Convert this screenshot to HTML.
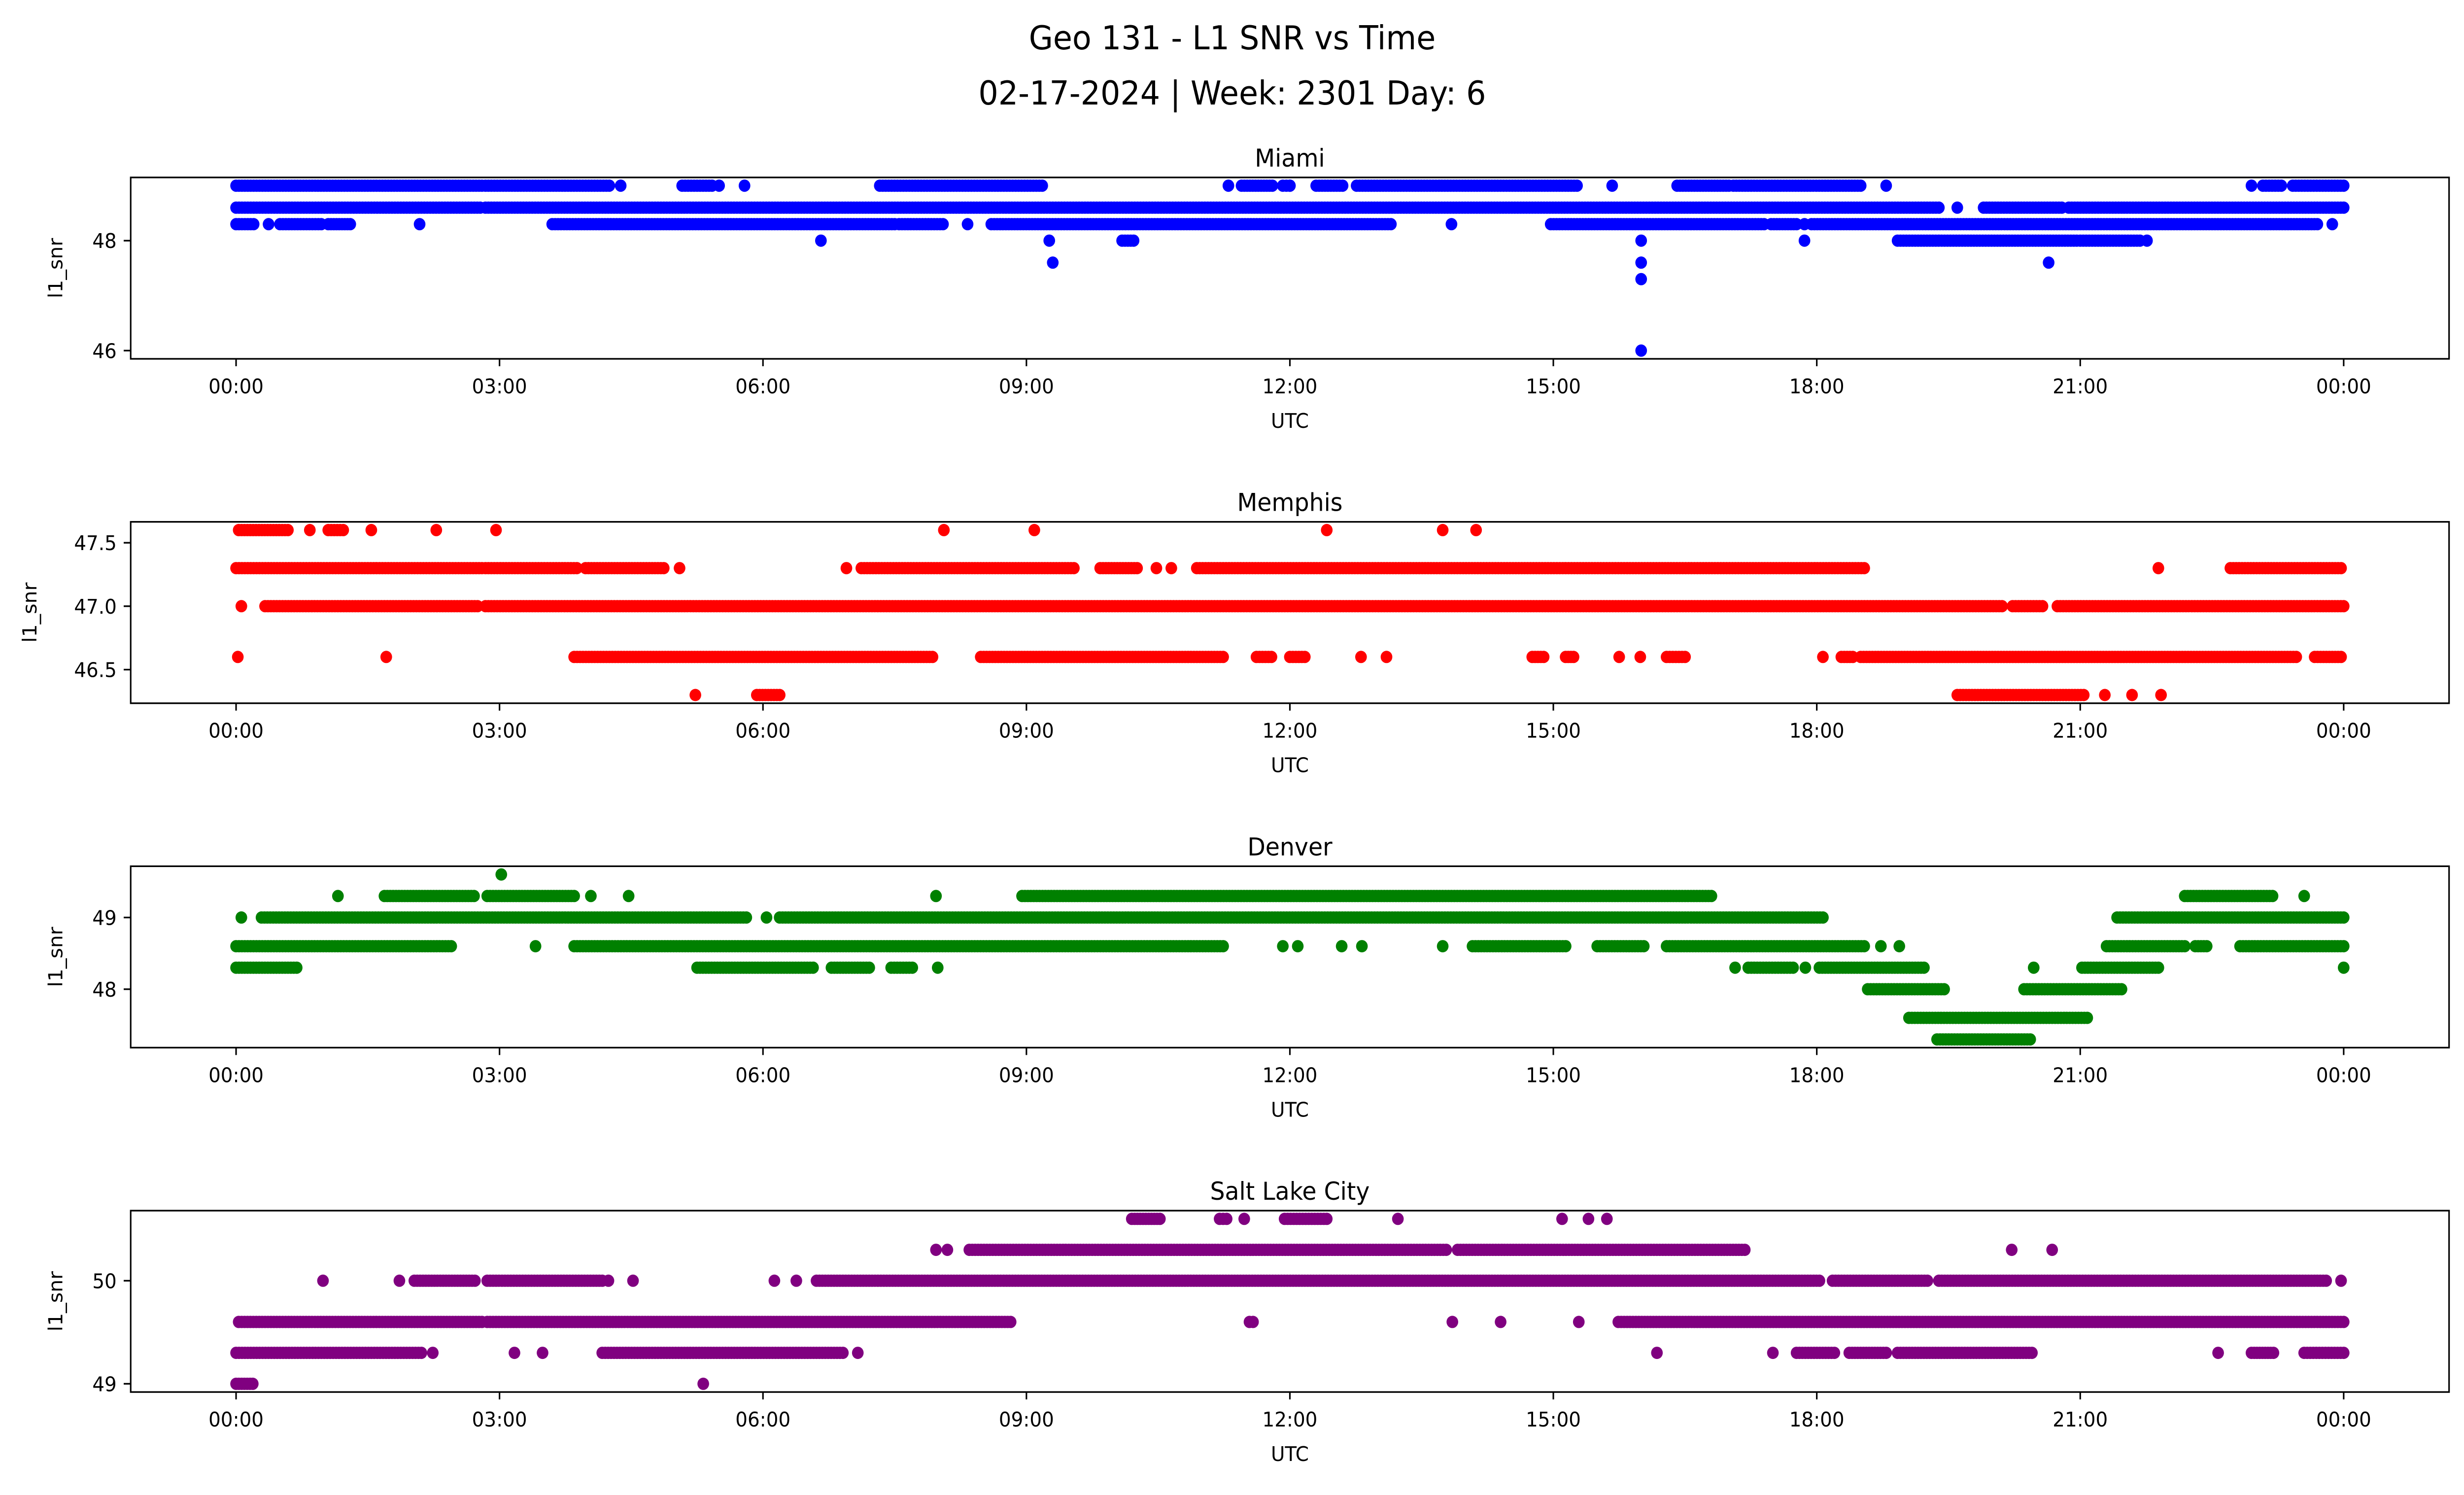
<!DOCTYPE html>
<html><head><meta charset="utf-8"><style>
html,body{margin:0;padding:0;background:#fff;overflow:hidden;width:100%;height:100%;}
svg{display:block;width:100vw;height:100vh;font-family:"DejaVu Sans","Liberation Sans",sans-serif;}
</style></head><body>
<svg id="fig" viewBox="0 0 5279 3033" preserveAspectRatio="none" xmlns="http://www.w3.org/2000/svg">
<rect width="5279" height="3033" fill="#fff"/>
<text x="2640" y="100" font-size="67" text-anchor="middle">Geo 131 - L1 SNR vs Time</text>
<text x="2640" y="212" font-size="67" text-anchor="middle">02-17-2024 | Week: 2301 Day: 6</text>
</svg>
<script>
// ---- data: runs of consecutive samples [level, startHour, endHour] ----
const cities = ["Miami","Memphis","Denver","Salt Lake City"];
const colors = ["#0000ff","#ff0000","#008000","#800080"];
const yTicksMiami = [46,48];
const yTicksMemphis = [46.5,47.0,47.5];
const yTicksDenver = [48,49];
const yTicksSLC = [49,50];
const xTickHours = [0,3,6,9,12,15,18,21,24];
const xTickLabels = ["00:00","03:00","06:00","09:00","12:00","15:00","18:00","21:00","00:00"];

const miamiRuns = [
 [49.0,0,2.8],[49.0,2.84,4.25],[49.0,4.38,4.38],[49.0,5.08,5.42],[49.0,5.5,5.5],[49.0,5.79,5.79],[49.0,7.33,9.18],[49.0,11.3,11.3],[49.0,11.45,11.8],[49.0,11.92,12.0],
 [49.0,12.0,12.0],[49.0,12.3,12.6],[49.0,12.76,15.27],[49.0,15.67,15.67],[49.0,16.41,17.0],[49.0,17.05,18.5],[49.0,18.79,18.79],[49.0,22.95,22.95],[49.0,23.08,23.29],[49.0,23.42,24],
 [48.6,0,2.78],[48.6,2.84,19.39],[48.6,19.6,19.6],[48.6,19.9,20.79],[48.6,20.87,21.47],[48.6,21.5,24],
 [48.3,0,0.2],[48.3,0.37,0.37],[48.3,0.5,0.97],[48.3,1.05,1.3],[48.3,2.09,2.09],[48.3,3.6,7.5],[48.3,7.55,8.05],[48.3,8.33,8.33],[48.3,8.6,13.15],[48.3,13.84,13.84],[48.3,14.97,17.4],[48.3,17.48,17.77],[48.3,17.86,17.86],[48.3,17.94,23.7],[48.3,23.87,23.87],
 [48.0,6.66,6.66],[48.0,9.26,9.26],[48.0,10.09,10.22],[48.0,16.0,16.0],[48.0,17.86,17.86],[48.0,18.92,20.96],[48.0,21.0,21.68],[48.0,21.76,21.76],
 [47.6,9.3,9.3],[47.6,20.64,20.64],[47.6,16.0,16.0],[47.3,16.0,16.0],[46.0,16.0,16.0]
];
const memphisRuns = [
 [47.6,0.03,0.59],[47.6,0.84,0.84],[47.6,1.05,1.22],[47.6,1.54,1.54],[47.6,2.28,2.28],[47.6,2.96,2.96],[47.6,8.06,8.06],[47.6,9.09,9.09],[47.6,12.42,12.42],[47.6,13.74,13.74],[47.6,14.12,14.12],
 [47.3,0,2.8],[47.3,2.84,3.88],[47.3,3.98,4.87],[47.3,5.05,5.05],[47.3,6.95,6.95],[47.3,7.12,9.54],[47.3,9.84,10.26],[47.3,10.48,10.48],[47.3,10.65,10.65],[47.3,10.94,18.54],[47.3,21.89,21.89],[47.3,22.71,23.97],
 [47.0,0.06,0.06],[47.0,0.33,2.75],[47.0,2.84,20.11],[47.0,20.23,20.57],[47.0,20.74,24],
 [46.6,0.02,0.02],[46.6,1.71,1.71],[46.6,3.85,7.93],[46.6,8.48,11.24],[46.6,11.62,11.79],[46.6,12.0,12.17],[46.6,12.81,12.81],[46.6,13.1,13.1],[46.6,14.76,14.89],[46.6,15.14,15.23],[46.6,15.75,15.75],[46.6,15.99,15.99],[46.6,16.29,16.5],[46.6,18.07,18.07],[46.6,18.28,18.41],[46.6,18.5,23.46],[46.6,23.67,23.97],
 [46.3,5.23,5.23],[46.3,5.93,6.19],[46.3,19.6,21.04],[46.3,21.28,21.28],[46.3,21.59,21.59],[46.3,21.92,21.92]
];
const denverRuns = [
 [49.6,3.02,3.02],
 [49.3,1.16,1.16],[49.3,1.69,2.71],[49.3,2.86,3.85],[49.3,4.04,4.04],[49.3,4.47,4.47],[49.3,7.97,7.97],[49.3,8.95,16.8],[49.3,22.19,23.19],[49.3,23.55,23.55],
 [49.0,0.06,0.06],[49.0,0.29,5.81],[49.0,6.04,6.04],[49.0,6.19,18.07],[49.0,21.42,24],
 [48.6,0,2.45],[48.6,3.41,3.41],[48.6,3.85,11.24],[48.6,11.92,11.92],[48.6,12.09,12.09],[48.6,12.59,12.59],[48.6,12.82,12.82],[48.6,13.74,13.74],[48.6,14.08,15.14],[48.6,15.5,16.03],[48.6,16.29,18.54],[48.6,18.73,18.73],[48.6,18.94,18.94],[48.6,21.3,22.19],[48.6,22.31,22.44],[48.6,22.82,24],
 [48.3,0,0.69],[48.3,5.25,6.57],[48.3,6.78,7.21],[48.3,7.46,7.7],[48.3,7.99,7.99],[48.3,17.07,17.07],[48.3,17.22,17.73],[48.3,17.87,17.87],[48.3,18.03,19.22],[48.3,20.47,20.47],[48.3,21.02,21.89],[48.3,24,24],
 [48.0,18.58,19.45],[48.0,20.36,21.47],
 [47.6,19.05,21.08],
 [47.3,19.37,20.43]
];
const slcRuns = [
 [50.6,10.2,10.52],[50.6,11.2,11.28],[50.6,11.48,11.48],[50.6,11.94,12.42],[50.6,13.23,13.23],[50.6,15.1,15.1],[50.6,15.4,15.4],[50.6,15.61,15.61],
 [50.3,7.97,7.97],[50.3,8.1,8.1],[50.3,8.35,13.78],[50.3,13.91,17.18],[50.3,20.22,20.22],[50.3,20.68,20.68],
 [50.0,0.99,0.99],[50.0,1.86,1.86],[50.0,2.03,2.72],[50.0,2.86,4.17],[50.0,4.24,4.24],[50.0,4.52,4.52],[50.0,6.13,6.13],[50.0,6.38,6.38],[50.0,6.61,18.03],[50.0,18.18,19.26],[50.0,19.39,23.8],[50.0,23.97,23.97],
 [49.6,0.03,2.8],[49.6,2.86,8.82],[49.6,11.54,11.58],[49.6,13.85,13.85],[49.6,14.4,14.4],[49.6,15.29,15.29],[49.6,15.74,24],
 [49.3,0,2.11],[49.3,2.24,2.24],[49.3,3.17,3.17],[49.3,3.49,3.49],[49.3,4.17,6.91],[49.3,7.08,7.08],[49.3,16.18,16.18],[49.3,17.5,17.5],[49.3,17.77,18.2],[49.3,18.37,18.79],[49.3,18.92,20.45],[49.3,22.57,22.57],[49.3,22.95,23.2],[49.3,23.55,24],
 [49.0,0,0.19],[49.0,5.32,5.32]
];
const panelRuns = [miamiRuns, memphisRuns, denverRuns, slcRuns];
const panelYTicks = [yTicksMiami, yTicksMemphis, yTicksDenver, yTicksSLC];

// ---- layout ----
const NS = "http://www.w3.org/2000/svg";
const svg = document.getElementById("fig");
const AX_L = 280, AX_R = 5247, AX_H = 368, PITCH = 698.7, TOP0 = 360;
const X0 = -1.2, X1 = 25.2;
function xScale(h){ return AX_L + (h - X0) / (X1 - X0) * (AX_R - AX_L); }
function mk(tag, attrs){ const e = document.createElementNS(NS, tag); for (const k in attrs) e.setAttribute(k, attrs[k]); return e; }

panelRuns.forEach((runs, p) => {
  const top = TOP0 + p * PITCH, bot = top + AX_H;
  let lo = Infinity, hi = -Infinity;
  runs.forEach(r => { lo = Math.min(lo, r[0]); hi = Math.max(hi, r[0]); });
  const pad = (hi - lo) * 0.05, y0 = lo - pad, y1 = hi + pad;
  const yScale = v => bot - (v - y0) / (y1 - y0) * AX_H;

  const g = mk("g", {});
  
  
  svg.appendChild(g);

  const title = mk("text", {x: (AX_L + AX_R) / 2, y: top - 22, "font-size": 50, "text-anchor": "middle"});
  
  
  title.textContent = cities[p];
  g.appendChild(title);

  const pts = mk("g", {fill: colors[p]});
  
  
  g.appendChild(pts);
  const step = 1 / 30;
  runs.forEach(r => {
    const [lvl, s, e] = r;
    const n = Math.max(1, Math.round((e - s) / step) + 1);
    for (let i = 0; i < n; i++) {
      const h = n === 1 ? s : s + (e - s) * i / (n - 1);
      const c = mk("circle", {cx: xScale(h).toFixed(1), cy: yScale(lvl).toFixed(1), r: 12.5});
      
      
      pts.appendChild(c);
    }
  });

  const frame = mk("rect", {x: AX_L, y: top, width: AX_R - AX_L, height: AX_H, fill: "none", stroke: "#000", "stroke-width": 3.3});
  
  
  g.appendChild(frame);

  xTickHours.forEach((h, i) => {
    const x = xScale(h);
    const t = mk("line", {x1: x, x2: x, y1: bot, y2: bot + 15, stroke: "#000", "stroke-width": 3.3});
    
    
    g.appendChild(t);
    const lb = mk("text", {x: x, y: bot + 70, "font-size": 41, "text-anchor": "middle"});
    
    
    lb.textContent = xTickLabels[i];
    g.appendChild(lb);
  });
  const xl = mk("text", {x: (AX_L + AX_R) / 2, y: bot + 140, "font-size": 41, "text-anchor": "middle"});
  
  
  xl.textContent = "UTC";
  g.appendChild(xl);

  let maxLen = 0;
  panelYTicks[p].forEach(v => {
    const y = yScale(v);
    const t = mk("line", {x1: AX_L - 15, x2: AX_L, y1: y, y2: y, stroke: "#000", "stroke-width": 3.3});
    
    
    g.appendChild(t);
    const lb = mk("text", {x: AX_L - 30, y: y + 15, "font-size": 41, "text-anchor": "end"});
    
    
    lb.textContent = (p === 1) ? v.toFixed(1) : String(v);
    maxLen = Math.max(maxLen, lb.textContent.length);
    g.appendChild(lb);
  });
  const ylx = maxLen > 2 ? 65 : 120;
  const yl = mk("text", {x: ylx, y: (top + bot) / 2, "font-size": 41, "text-anchor": "middle", "dominant-baseline": "central", transform: "rotate(-90 " + ylx + " " + ((top + bot) / 2) + ")"});
  
  
  yl.textContent = "l1_snr";
  g.appendChild(yl);
});
</script>
</body></html>
